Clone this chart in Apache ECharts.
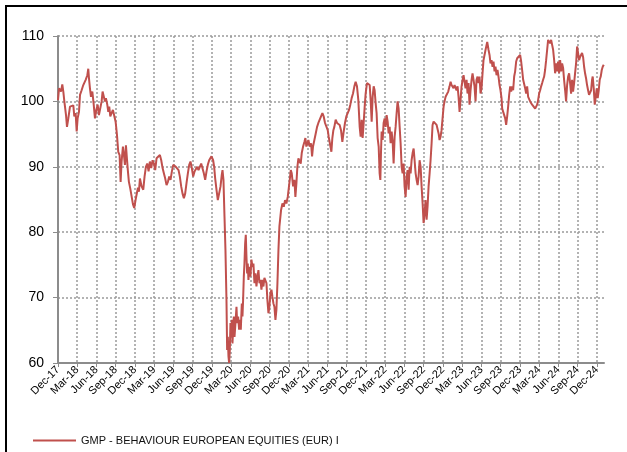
<!DOCTYPE html>
<html>
<head>
<meta charset="utf-8">
<script src="https://cdn.jsdelivr.net/npm/echarts@6/dist/echarts.min.js"></script>
<style>
  html, body { margin: 0; padding: 0; background: #fff; overflow: hidden; }
  #wrap { position: relative; width: 627px; height: 452px; overflow: hidden; }
  #main { width: 627px; height: 452px; }
  .frame { position: absolute; left: 5px; top: 5px; width: 700px; height: 500px; border: 2px solid #000; pointer-events: none; }
</style>
</head>
<body>
<div id="wrap">
  <div id="main"></div>
  <div class="frame"></div>
</div>
<script>
// x = months since Dec-17, y = index value
const nav2018 = [
  [0,100.2],[0.16,102.0],[0.31,102.3],[0.47,101.5],[0.67,102.6],[0.83,101.5],[0.99,100.0],[1.25,97.9],[1.40,96.1],[1.61,97.4],
  [1.87,99.2],[2.13,98.9],[2.39,99.4],[2.54,97.7],[2.75,98.2],[2.91,95.4],[3.06,97.4],[3.27,98.4],[3.43,101.0],[3.68,101.7],
  [3.94,102.5],[4.31,103.3],[4.57,104.0],[4.72,105.0],[4.83,103.5],[4.98,102.0],[5.14,100.7],[5.35,101.5],[5.55,99.7],[5.76,97.4],
  [5.97,98.7],[6.18,99.5],[6.38,97.9],[6.54,98.2],[6.80,100.0],[6.95,101.5],[7.16,101.7],[7.32,100.0],[7.47,100.5],[7.68,99.5],
  [7.84,98.4],[7.99,99.2],[8.15,97.7],[8.36,97.4],[8.56,98.7],[8.77,98.4],[8.98,96.9],[9.19,94.9],[9.39,92.3],[9.60,91.8],
  [9.76,87.7],[9.91,90.8],[10.12,93.1],[10.28,91.8],[10.43,90.3],[10.59,93.3],[10.74,91.3],[10.90,89.3],[11.05,87.7],[11.26,86.7],
  [11.37,86.5],[11.68,84.3],[11.88,83.7],[12.14,85.2],[12.46,86.8],[12.61,86.2]
];
const nav2019 = [
  [12.77,88.2],[13.03,87.0],[13.29,86.5],[13.49,88.5],[13.70,90.0],[13.91,90.5],[14.12,89.3],[14.32,90.8],[14.53,89.8],[14.74,91.0],
  [14.95,90.5],[15.15,89.5],[15.36,91.3],[15.62,91.6],[15.88,91.8],[16.09,91.0],[16.30,89.8],[16.50,89.0],[16.71,88.2],[16.92,87.2],
  [17.13,87.7],[17.33,88.5],[17.54,88.0],[17.75,89.3],[17.96,90.3],[18.16,90.5],[18.37,90.0],[18.58,90.3],[18.79,89.5],[18.99,88.5],
  [19.20,87.0],[19.41,85.9],[19.62,85.2],[19.82,85.9],[20.03,87.5],[20.24,89.0],[20.45,90.3],[20.65,90.8],[20.86,89.8],[21.07,88.5],
  [21.28,89.3],[21.48,89.0],[21.69,90.0],[21.90,89.5],[22.11,89.3],[22.32,90.5],[22.52,90.8],[22.73,89.0],[22.94,88.0],[23.15,89.3],
  [23.35,90.3],[23.56,91.0]
];
const nav2020 = [
  [23.67,91.3],[23.92,91.6],[24.18,91.0],[24.34,90.0],[24.50,88.2],[24.70,86.5],[24.91,84.9],[25.12,84.7],[25.33,87.0],[25.53,88.8],
  [25.64,89.5],[25.79,88.0],[25.95,82.4],[26.10,77.3],[26.26,69.6],[26.36,62.0],[26.47,64.0],[26.57,61.0],[26.67,60.0],[26.78,62.0],
  [26.88,66.1],[26.99,64.0],[27.09,66.6],[27.19,63.0],[27.30,65.1],[27.40,67.1],[27.51,64.0],[27.66,66.1],[27.82,68.6],[27.92,66.1],
  [28.08,67.1],[28.23,65.1],[28.34,66.6],[28.49,65.1],[28.65,69.1],[28.75,67.1],[28.85,69.6],[28.96,73.2],[29.06,75.2],[29.17,78.3],
  [29.27,79.6],[29.37,76.3],[29.48,73.7],[29.58,75.2],[29.68,72.7],[29.84,74.7],[29.99,73.2],[30.15,75.8],[30.31,74.7],[30.46,75.2],
  [30.62,72.2],[30.77,73.7],[30.93,71.7],[31.09,73.2],[31.24,74.2],[31.40,72.2],[31.55,72.7],[31.71,71.2],[31.86,72.7],[32.02,71.7],
  [32.17,73.0],[32.33,73.2],[32.49,72.2],[32.64,69.6],[32.80,67.6],[32.95,68.6],[33.11,70.7],[33.27,71.2],[33.42,70.1],[33.58,69.1],
  [33.73,68.6],[33.89,66.6],[34.04,68.1],[34.20,72.2],[34.36,77.3],[34.51,80.9],[34.77,83.4],[34.98,84.4],[35.19,83.9],[35.39,84.9],
  [35.60,84.4],[35.81,85.4],[35.96,85.7],[36.12,88.0],[36.28,89.5],[36.43,89.0]
];
const nav2021 = [
  [36.64,87.0],[36.85,88.0],[37.00,85.4],[37.16,87.5],[37.31,90.0],[37.47,91.3],[37.68,91.6],[37.83,90.5],[37.99,92.1],[38.20,93.1],
  [38.40,93.8],[38.56,94.4],[38.71,93.1],[38.87,93.6],[39.03,94.1],[39.23,93.1],[39.44,93.6],[39.60,91.6],[39.75,93.1],[39.96,94.1],
  [40.17,95.1],[40.38,96.1],[40.58,96.7],[40.79,97.2],[41.00,97.7],[41.21,98.2],[41.41,97.7],[41.62,96.7],[41.83,96.9],[42.04,95.6],
  [42.19,94.6],[42.40,94.4],[42.61,92.3],[42.76,94.4],[42.92,95.6],[43.07,96.1],[43.28,97.2],[43.49,96.7],[43.70,96.9],[43.90,96.4],
  [44.11,95.6],[44.32,93.8],[44.53,95.4],[44.73,96.7],[44.94,97.7],[45.15,98.2],[45.36,98.7],[45.56,99.5],[45.77,100.5],[45.98,101.2],
  [46.19,102.3],[46.39,103.0],[46.60,102.3],[46.81,100.2],[47.02,96.1],[47.17,94.6],[47.33,97.2],[47.48,94.4],[47.64,96.7],[47.80,99.2],
  [47.95,101.2],[48.16,102.8],[48.37,102.5],[48.58,102.5]
];
const nav2022 = [
  [48.73,100.2],[48.89,96.9],[49.04,100.7],[49.20,102.3],[49.35,101.7],[49.51,99.7],[49.66,98.2],[49.82,94.4],[49.98,93.1],[50.13,89.0],
  [50.24,88.0],[50.34,92.1],[50.44,95.4],[50.60,94.1],[50.75,96.7],[50.91,97.4],[51.07,96.1],[51.22,97.9],[51.38,96.9],[51.53,95.1],
  [51.69,96.1],[51.84,93.6],[52.00,95.4],[52.16,93.8],[52.31,90.5],[52.47,94.6],[52.62,96.1],[52.78,98.2],[52.93,100.0],[53.09,98.9],
  [53.25,96.1],[53.40,93.6],[53.56,90.0],[53.71,89.0],[53.87,90.5],[54.02,87.0],[54.18,85.4],[54.34,88.5],[54.49,89.5],[54.65,86.5],
  [54.80,90.0],[54.96,89.0],[55.11,91.0],[55.27,92.1],[55.43,92.8],[55.58,91.0],[55.74,89.0],[55.89,88.0],[56.05,87.2],[56.20,88.5],
  [56.36,91.0],[56.52,90.0],[56.67,87.0],[56.83,84.4],[56.98,81.4],[57.14,82.9],[57.29,84.9],[57.45,81.9],[57.60,83.9],[57.76,87.0],
  [57.92,89.0],[58.07,91.0],[58.23,93.6],[58.38,96.4],[58.54,96.9],[58.69,96.7],[58.85,96.9],[59.01,96.4],[59.16,96.7],[59.32,95.1],
  [59.47,94.1],[59.63,94.6],[59.78,95.6],[59.94,97.4],[60.10,99.2],[60.25,100.0],[60.41,100.7]
];
const nav2023 = [
  [60.61,101.0],[60.82,101.5],[61.03,102.3],[61.19,103.0],[61.34,102.5],[61.50,102.8],[61.65,102.0],[61.81,102.5],[61.96,102.8],[62.12,101.7],
  [62.28,102.3],[62.43,100.7],[62.59,98.4],[62.74,100.2],[62.90,102.3],[63.06,103.3],[63.21,104.0],[63.37,103.8],[63.52,102.0],[63.68,103.3],
  [63.83,101.2],[63.99,102.8],[64.14,99.5],[64.30,101.7],[64.46,103.3],[64.61,104.3],[64.77,104.6],[64.92,102.3],[65.08,100.0],[65.23,103.3],
  [65.39,103.8],[65.55,102.8],[65.70,103.8],[65.86,101.2],[66.01,102.0],[66.17,104.3],[66.32,106.3],[66.48,107.1],[66.64,107.9],[66.79,108.6],
  [66.90,109.1],[67.00,108.9],[67.10,107.9],[67.26,107.1],[67.41,105.8],[67.57,106.3],[67.73,105.3],[67.88,106.1],[68.04,104.6],[68.19,105.3],
  [68.35,104.0],[68.50,104.8],[68.66,103.8],[68.82,102.5],[68.97,101.7],[69.13,100.5],[69.23,98.9],[69.39,99.2],[69.54,98.7],[69.70,97.4],
  [69.85,96.4],[70.01,97.7],[70.16,99.2],[70.32,101.0],[70.48,102.3],[70.63,101.5],[70.79,102.3],[70.94,101.7],[71.10,103.8],[71.25,104.6],
  [71.41,106.1],[71.57,106.6],[71.72,106.8],[71.88,106.6],[72.03,107.1],[72.19,106.1],[72.34,104.8]
];
const nav2024 = [
  [72.50,103.3],[72.66,103.5],[72.81,102.0],[72.97,101.2],[73.12,102.3],[73.28,100.7],[73.43,100.5],[73.59,100.0],[73.75,100.2],[73.90,99.5],
  [74.06,99.2],[74.21,99.7],[74.37,98.9],[74.52,98.7],[74.68,99.5],[74.83,100.2],[74.99,101.2],[75.15,101.7],[75.30,102.3],[75.46,102.8],
  [75.61,103.3],[75.77,103.8],[75.92,104.8],[76.08,106.3],[76.24,107.9],[76.39,109.4],[76.55,109.6],[76.70,108.9],[76.86,109.4],[77.01,109.4],
  [77.17,107.9],[77.33,106.3],[77.48,104.3],[77.64,105.8],[77.79,104.6],[77.95,106.1],[78.10,104.3],[78.26,106.3],[78.42,104.6],[78.57,105.8],
  [78.73,105.1],[78.88,103.3],[79.04,101.7],[79.19,100.0],[79.35,102.5],[79.51,103.8],[79.66,104.3],[79.82,102.8],[79.97,101.2],[80.13,103.3],
  [80.28,101.5],[80.44,102.8],[80.59,104.3],[80.75,105.8],[80.91,108.4],[81.06,107.4],[81.22,106.3],[81.37,106.8],[81.53,106.6],[81.68,107.4],
  [81.84,106.8],[82.00,105.3],[82.15,104.3],[82.31,103.5],[82.46,102.5],[82.62,101.7],[82.77,101.0],[82.93,100.7],[83.09,101.7],[83.24,103.3],
  [83.34,103.8],[83.50,102.0],[83.66,99.5],[83.81,100.7],[83.97,102.0],[84.12,100.5],[84.28,101.7],[84.43,103.3],[84.59,103.8],[84.75,104.8],
  [84.90,105.3],[85.06,105.6]
];

// one label every 3 months starting at Dec-17
const tickLabels = ['Dec-17','Mar-18','Jun-18','Sep-18','Dec-18','Mar-19','Jun-19','Sep-19','Dec-19','Mar-20',
  'Jun-20','Sep-20','Dec-20','Mar-21','Jun-21','Sep-21','Dec-21','Mar-22','Jun-22','Sep-22',
  'Dec-22','Mar-23','Jun-23','Sep-23','Dec-23','Mar-24','Jun-24','Sep-24','Dec-24'];
const yTicks = [60, 70, 80, 90, 100, 110];
const seriesName = 'GMP - BEHAVIOUR EUROPEAN EQUITIES (EUR) I';

const navData = [].concat(nav2018, nav2019, nav2020, nav2021, nav2022, nav2023, nav2024);

const gridLine = { type: [2, 2], color: '#9a9a9a', width: 1.5 };
const axisGrey = '#8c8c8c';
const font = '"Liberation Sans", Arial, sans-serif';
const red = '#C0504D';

let myChart = echarts.init(document.getElementById('main'));
myChart.setOption({
  animation: false,
  grid: { left: 58, right: 23, top: 36, bottom: 89 },
  legend: {
    left: 33, top: 435, padding: 0,
    icon: 'rect',
    itemWidth: 43, itemHeight: 2,
    textStyle: { fontFamily: font, fontSize: 11, color: '#111' },
    data: [seriesName]
  },
  xAxis: {
    type: 'value',
    min: 0,
    max: 85.1,
    interval: 3,
    axisLine: { show: true, onZero: false, lineStyle: { color: axisGrey, width: 2 } },
    axisTick: { show: true, length: 4, lineStyle: { color: axisGrey, width: 1 } },
    axisLabel: {
      rotate: 45, margin: 5, fontSize: 11, color: '#000', fontFamily: font,
      showMaxLabel: false,
      formatter: v => (v % 3 === 0 && tickLabels[v / 3] !== undefined) ? tickLabels[v / 3] : ''
    },
    splitLine: { show: true, showMinLine: false, showMaxLine: false, lineStyle: gridLine }
  },
  yAxis: {
    type: 'value',
    min: yTicks[0],
    max: yTicks[yTicks.length - 1],
    interval: 10,
    axisLine: { show: true, lineStyle: { color: axisGrey, width: 2 } },
    axisTick: { show: true, length: 5, lineStyle: { color: axisGrey, width: 1 } },
    axisLabel: { margin: 14, fontSize: 14, color: '#000', fontFamily: font },
    splitLine: { show: true, showMinLine: false, lineStyle: gridLine }
  },
  series: [{
    name: seriesName,
    type: 'line',
    data: navData,
    symbol: 'none',
    lineStyle: { color: red, width: 2 },
    itemStyle: { color: red }
  }]
});
</script>
</body>
</html>
